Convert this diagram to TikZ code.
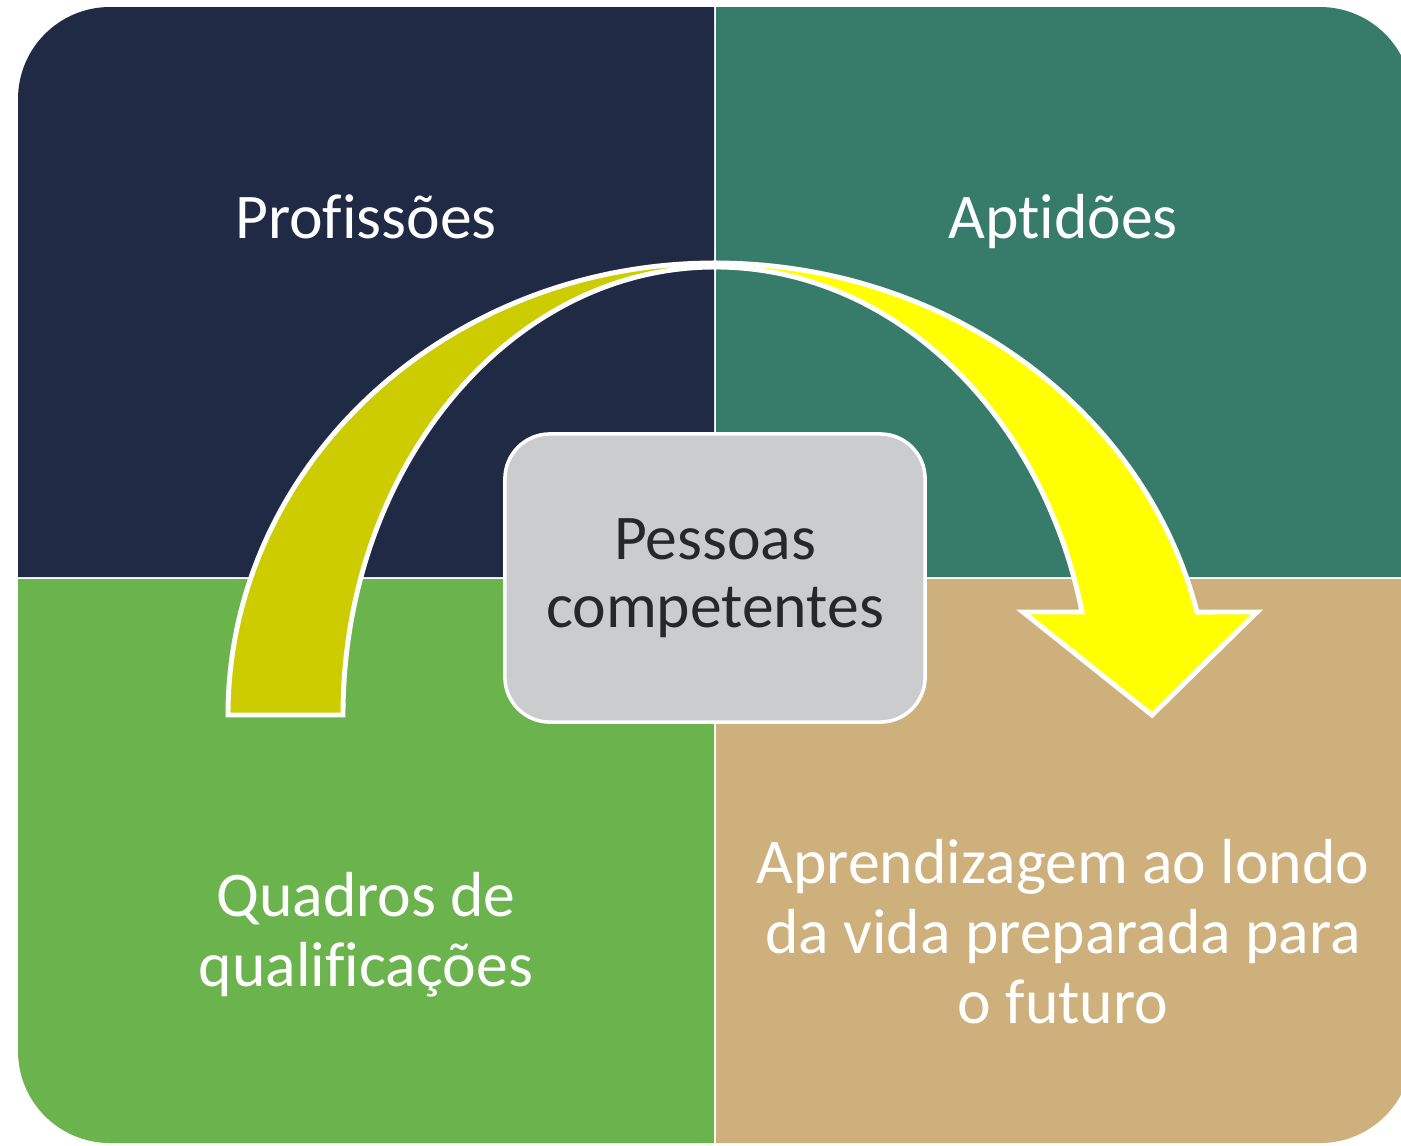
\documentclass[tikz,border=0pt]{standalone}
\usepackage{fontspec}
\setmainfont{Carlito}[Ligatures=NoCommon]
\usetikzlibrary{positioning}

\definecolor{navy}{HTML}{212A45}
\definecolor{seateal}{HTML}{377B6A}
\definecolor{leaf}{HTML}{6BB34D}
\definecolor{sand}{HTML}{CEB07C}
\definecolor{olivearrow}{HTML}{CCCC00}
\definecolor{brightarrow}{HTML}{FFFF00}
\definecolor{boxgrey}{HTML}{CBCCCE}
\definecolor{inkgrey}{HTML}{25282B}

\begin{document}
\begin{tikzpicture}[x=0.01cm,y=-0.01cm,
quadtext/.style={text=white,font=\fontsize{18.1}{19.9}\selectfont,align=center,inner sep=0pt},
centre box/.style={fill=boxgrey,draw=white,line width=1pt,rounded corners=0.45cm,
  minimum width=4.2cm,minimum height=2.88cm,text=inkgrey,align=center,
  font=\fontsize{18.1}{19.4}\selectfont},
bend arrow/.style={draw=white,line width=1.4pt}]
\useasboundingbox (0,0) rectangle (1401,1145);
\begin{scope}
\clip (0,0) rectangle (1401,1145);
% four quadrants, one rounded outer corner each
\fill[navy] (714,577) -- (18,577) -- (18,99) arc[start angle=180,end angle=270,radius=92] -- (714,7) -- cycle;
\fill[seateal] (716,577) -- (716,7) -- (1320,7) arc[start angle=270,end angle=360,radius=92] -- (1412,577) -- cycle;
\fill[leaf] (714,579) -- (18,579) -- (18,1051) arc[start angle=180,end angle=90,radius=92] -- (714,1143) -- cycle;
\fill[sand] (716,579) -- (716,1143) -- (1320,1143) arc[start angle=90,end angle=0,radius=92] -- (1412,579) -- cycle;
\end{scope}

\node[quadtext,anchor=base] (prof) at (366,238) {Profissões};
\node[quadtext,anchor=base] (apt) at (1063,238) {Aptidões};
\node[quadtext] (quad) at (366,935) {Quadros de\\qualificações};
\node[quadtext] (life) at (1063,932) {Aprendizagem ao londo\\da vida preparada para\\o futuro};

\node[centre box] (core) at (715,578) {Pessoas\\competentes};

% curved arrows
\filldraw[bend arrow,fill=olivearrow] (228,715)
  arc[start angle=180,end angle=270,x radius=487,y radius=452] -- (715,267)
  arc[start angle=270,end angle=180,x radius=372,y radius=448] -- cycle;
\filldraw[bend arrow,fill=brightarrow] (715,263)
  arc[start angle=270,end angle=346.83,x radius=495,y radius=452]
  -- (1257,612) -- (1152,715) -- (1023,612) -- (1082,612)
  arc[start angle=346.71,end angle=270,x radius=377,y radius=448] -- cycle;
\end{tikzpicture}
\end{document}
